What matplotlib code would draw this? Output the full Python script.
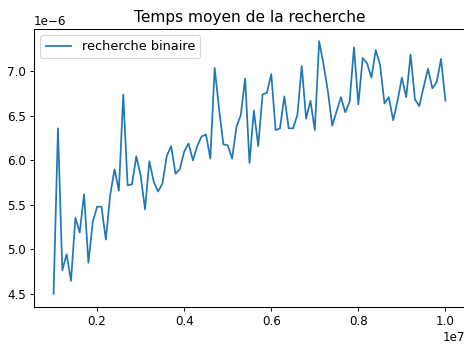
import numpy as np
import matplotlib
matplotlib.use("Agg")
import matplotlib.pyplot as plt

plt.rcParams.update({
    "font.family": "DejaVu Sans",
    "font.size": 10.3,
    "axes.titlesize": 13.4,
    "xtick.labelsize": 10.3,
    "ytick.labelsize": 10.3,
    "legend.fontsize": 11.2,
    "axes.spines.top": True,
    "axes.spines.right": True,
    "axes.edgecolor": "black",
    "axes.linewidth": 0.9,
    "lines.linewidth": 1.5,
})

# Array sizes tested (1e6 .. 1e7, step 1e5)
sizes = np.arange(1_000_000, 10_000_001, 100_000)

# Mean binary-search time (seconds, in units of 1e-6)
mean_times_us = [
    4.50, 6.36, 4.765, 4.945, 4.646, 5.354, 5.19, 5.62, 4.85, 5.31,
    5.48, 5.48, 5.11, 5.61, 5.90, 5.66, 6.74, 5.72, 5.73, 6.045,
    5.83, 5.45, 5.99, 5.76, 5.65, 5.74, 6.05, 6.16, 5.85, 5.90,
    6.10, 6.19, 6.00, 6.16, 6.27, 6.29, 6.02, 7.04, 6.58, 6.18,
    6.17, 6.02, 6.375, 6.51, 6.92, 5.97, 6.56, 6.16, 6.74, 6.76,
    6.97, 6.34, 6.36, 6.72, 6.36, 6.36, 6.51, 7.06, 6.47, 6.67,
    6.34, 7.34, 7.08, 6.78, 6.39, 6.55, 6.71, 6.54, 6.66, 7.27,
    6.63, 7.15, 7.09, 6.93, 7.24, 7.07, 6.64, 6.71, 6.45, 6.67,
    6.93, 6.71, 7.19, 6.685, 6.61, 6.825, 7.03, 6.81, 6.88, 7.14,
    6.67,
]
mean_times = np.array(mean_times_us) * 1e-6

W, H, DPI = 464, 346, 83
fig = plt.figure(figsize=(W / DPI, H / DPI), dpi=DPI)
ax = fig.add_axes([34 / W, 39.5 / H, 431 / W, 278.0 / H])

ax.plot(sizes, mean_times, color="#1f77b4", label="recherche binaire")
ax.set_title("Temps moyen de la recherche")
ax.legend(loc="upper left")
for side in ("top", "right", "left", "bottom"):
    ax.spines[side].set_visible(True)
    ax.spines[side].set_color("black")

fig.savefig("out.png", dpi=DPI)
